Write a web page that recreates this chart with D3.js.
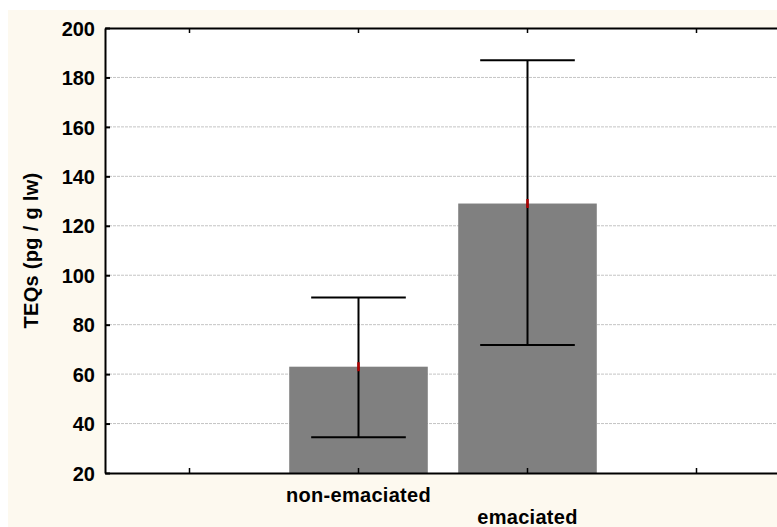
<!DOCTYPE html>
<html>
<head>
<meta charset="utf-8">
<script src="https://cdn.jsdelivr.net/npm/d3@7"></script>
<style>
  body { margin: 0; background: #fff; }
  text { font-family: "Liberation Sans", Arial, sans-serif; font-weight: bold; }
</style>
</head>
<body>
<div id="chart"></div>
<script>
// data
var slots = ["", "non-emaciated", "emaciated", " "];
var groups = ["non-emaciated", "emaciated"];
var means = [63, 129];
var upper = [91, 187];
var lower = [34.5, 71.8];
var yTicks = [20, 40, 60, 80, 100, 120, 140, 160, 180, 200];

var W = 777, H = 527;
var margin = { top: 28, right: -4, bottom: 54, left: 105 },
  width = W - margin.left - margin.right,
  height = H - margin.top - margin.bottom;

var svg = d3.select("#chart").append("svg")
  .attr("width", W)
  .attr("height", H);

// cream frame
svg.append("rect")
  .attr("x", 8).attr("y", 10)
  .attr("width", W - 8).attr("height", H - 10)
  .attr("fill", "#fdf9ef");

var g = svg.append("g")
  .attr("transform", "translate(" + margin.left + "," + margin.top + ")");

var x = d3.scaleBand().domain(slots).range([0, width]).paddingInner(0.18).paddingOuter(0.09);
var y = d3.scaleLinear().domain([20, 200]).range([height, 0]);
var step = x.step();
function cx(d) { return x(d) + x.bandwidth() / 2; }

// plot area
g.append("rect")
  .attr("width", width).attr("height", height)
  .attr("fill", "#fff");

// grid
g.selectAll(".grid").data(yTicks.filter(function (t) { return t > 20 && t < 200; }))
  .enter().append("line")
  .attr("x1", 0).attr("x2", width)
  .attr("y1", function (d) { return y(d); })
  .attr("y2", function (d) { return y(d); })
  .attr("stroke", "#c4c4c4")
  .attr("stroke-width", 1)
  .attr("stroke-dasharray", "3,1");

// bars
g.selectAll(".bar").data(groups).enter().append("rect")
  .attr("x", function (d) { return x(d); })
  .attr("width", x.bandwidth())
  .attr("y", function (d, i) { return y(means[i]); })
  .attr("height", function (d, i) { return height - y(means[i]); })
  .attr("fill", "#808080");

// error bars
var capW = step * 0.56;
groups.forEach(function (d, i) {
  var c = cx(d);
  g.append("line").attr("x1", c).attr("x2", c)
    .attr("y1", y(upper[i])).attr("y2", y(lower[i]))
    .attr("stroke", "#000").attr("stroke-width", 2);
  [upper[i], lower[i]].forEach(function (v) {
    g.append("line").attr("x1", c - capW / 2).attr("x2", c + capW / 2)
      .attr("y1", y(v)).attr("y2", y(v))
      .attr("stroke", "#000").attr("stroke-width", 2);
  });
  g.append("line").attr("x1", c).attr("x2", c)
    .attr("y1", y(means[i]) - 4.5).attr("y2", y(means[i]) + 4.5)
    .attr("stroke", "#b00000").attr("stroke-width", 2.5);
});

// axes
var yAxis = g.append("g").call(d3.axisLeft(y).tickValues(yTicks).tickSizeInner(-5).tickSizeOuter(0).tickPadding(10));
yAxis.select(".domain").attr("stroke-width", 2);
yAxis.selectAll(".tick line").attr("stroke-width", 2);
yAxis.selectAll("text").attr("font-size", 20).attr("fill", "#000").attr("dy", "0.36em");

var xb = d3.axisBottom(x).tickSizeInner(-5).tickSizeOuter(0).tickFormat("");
var xAxis = g.append("g").attr("transform", "translate(0," + height + ")").call(xb);
xAxis.select(".domain").attr("stroke-width", 2);
xAxis.selectAll(".tick line").attr("stroke-width", 1.5);

var xTop = g.append("g").call(d3.axisTop(x).tickSizeInner(-5).tickSizeOuter(0).tickFormat(""));
xTop.select(".domain").attr("stroke-width", 2);
xTop.selectAll(".tick line").attr("stroke-width", 1.5);

// category labels, staggered
groups.forEach(function (d, i) {
  g.append("text")
    .attr("x", cx(d))
    .attr("y", height + (i === 0 ? 29 : 51))
    .attr("text-anchor", "middle")
    .attr("font-size", 20)
    .attr("letter-spacing", 0.3)
    .text(d);
});

// y label
svg.append("text")
  .attr("transform", "translate(38," + (margin.top + height / 2) + ") rotate(-90)")
  .attr("text-anchor", "middle")
  .attr("font-size", 20)
  .attr("letter-spacing", 0.3)
  .text("TEQs (pg / g lw)");
</script>
</body>
</html>
